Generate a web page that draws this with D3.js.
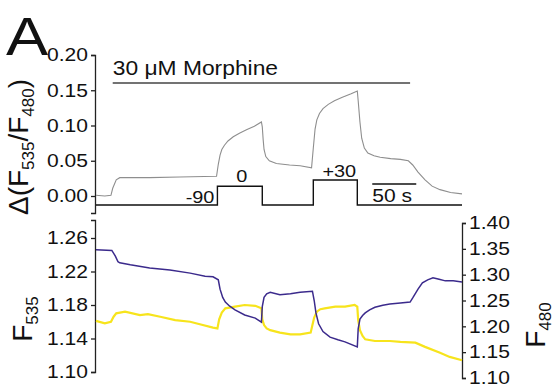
<!DOCTYPE html>
<html>
<head>
<meta charset="utf-8">
<script src="https://cdn.jsdelivr.net/npm/d3@7"></script>
<style>
  body { margin: 0; background: #fff; }
  text { font-family: "Liberation Sans", Arial, sans-serif; fill: #111; }
</style>
</head>
<body>
<svg id="chart" width="555" height="387"></svg>
<script>
// time in seconds (50 s scale bar)
const timeTop = [0, 10, 17, 19, 23, 27, 61, 95, 137, 139, 141, 143, 146, 150, 156, 163, 171, 180, 188, 189, 190, 191, 193, 197, 205, 220, 232, 245,
  247, 249, 251, 254, 258, 264, 271, 280, 290, 297, 298, 300, 302, 305, 309, 316, 323, 335, 346, 355, 360, 366, 374, 382, 391, 403, 416];
const deltaRatio = [0.001, 0.000, 0.001, 0.011, 0.023, 0.026, 0.026, 0.027, 0.028, 0.045, 0.058, 0.066, 0.072, 0.078, 0.084, 0.089, 0.094, 0.099, 0.105, 0.098, 0.080, 0.066, 0.056, 0.050, 0.046, 0.044, 0.043, 0.040,
  0.068, 0.095, 0.108, 0.117, 0.124, 0.130, 0.135, 0.140, 0.145, 0.149, 0.135, 0.105, 0.082, 0.068, 0.061, 0.057, 0.055, 0.053, 0.052, 0.050, 0.044, 0.034, 0.023, 0.014, 0.009, 0.005, 0.003];

// holding potential steps (mV)
const stepTimes = [0, 138, 189, 247, 297, 416];
const stepVolts = [-90, 0, -90, 30, -90, -90];

// F480 (blue, right axis)
const timeBlue = [0, 18, 22, 25, 27, 39, 61, 84, 107, 124, 133, 139, 141, 144, 147, 152, 158, 169, 181, 188, 189, 191, 194, 198,
  209, 221, 232, 246, 248, 250, 253, 258, 266, 275, 283, 297, 298, 300, 303, 306, 311, 317, 326, 334, 346, 357, 360, 366, 371, 377, 383, 390, 397, 406, 416];
const f480 = [1.348, 1.347, 1.336, 1.325, 1.323, 1.319, 1.313, 1.309, 1.303, 1.297, 1.296, 1.290, 1.272, 1.256, 1.247, 1.239, 1.232, 1.222, 1.216, 1.208, 1.238, 1.256, 1.263, 1.266,
  1.261, 1.263, 1.266, 1.268, 1.250, 1.226, 1.205, 1.190, 1.179, 1.174, 1.170, 1.160, 1.195, 1.214, 1.221, 1.226, 1.232, 1.237, 1.241, 1.243, 1.245, 1.247, 1.255, 1.272, 1.284, 1.290, 1.294, 1.291, 1.288, 1.288, 1.286];

// F535 (yellow, left axis)
const timeYellow = [0, 10, 17, 20, 23, 33, 50, 59, 73, 90, 107, 118, 133, 138, 140, 143, 147, 158, 169, 181, 188, 189, 191, 194,
  198, 209, 221, 232, 244, 246, 248, 251, 255, 260, 272, 283, 294, 297, 298, 300, 303, 306, 317, 334, 346, 363, 374, 391, 402, 416];
const f535 = [1.161, 1.158, 1.160, 1.166, 1.170, 1.172, 1.168, 1.169, 1.166, 1.162, 1.160, 1.157, 1.153, 1.152, 1.163, 1.171, 1.176, 1.178, 1.180, 1.179, 1.176, 1.163, 1.156, 1.152,
  1.150, 1.147, 1.145, 1.145, 1.147, 1.156, 1.165, 1.172, 1.175, 1.176, 1.178, 1.178, 1.180, 1.178, 1.162, 1.150, 1.143, 1.139, 1.137, 1.137, 1.136, 1.135, 1.130, 1.123, 1.118, 1.114];

const topTicks = [0, 0.05, 0.10, 0.15, 0.20];
const leftTicks = [1.10, 1.14, 1.18, 1.22, 1.26];
const rightTicks = [1.10, 1.15, 1.20, 1.25, 1.30, 1.35, 1.40];
const morphine = [19, 357];
const scaleBar = [314, 364];

const SX = 1.17; // the figure's text is a bit wide
const svg = d3.select("#chart");

const x = d3.scaleLinear().domain([0, 416]).range([96, 462]);
const yTop = d3.scaleLinear().domain([0, 0.2]).range([196, 55]);
const yStep = d3.scaleLinear().domain([-90, 30]).range([205, 180]);
const yLeft = d3.scaleLinear().domain([1.10, 1.26]).range([372, 238]);
const yRight = d3.scaleLinear().domain([1.10, 1.40]).range([378, 223]);

function styleAxis(g) {
  g.selectAll("path, line").attr("stroke", "#222").attr("stroke-width", 1.3);
  g.selectAll("text").attr("font-size", 18).attr("fill", "#111")
    .attr("font-family", "Liberation Sans, Arial, sans-serif")
    .attr("transform", `scale(${SX},1)`);
}

// top axis, its line runs a bit below 0 to take the step trace
const yTopAxis = d3.scaleLinear().domain([yTop.invert(213), 0.2]).range([213, 55]);
svg.append("g").attr("transform", "translate(95,0)")
  .call(d3.axisLeft(yTopAxis).tickValues(topTicks).tickFormat(d3.format(".2f")).tickSize(4).tickPadding(2))
  .call(styleAxis);

const yLeftAxis = d3.scaleLinear().domain([1.10, yLeft.invert(220)]).range([372, 220]);
svg.append("g").attr("transform", "translate(95,0)")
  .call(d3.axisLeft(yLeftAxis).tickValues(leftTicks).tickFormat(d3.format(".2f")).tickSize(4).tickPadding(2))
  .call(styleAxis);

svg.append("g").attr("transform", "translate(462,0)")
  .call(d3.axisRight(yRight).tickValues(rightTicks).tickFormat(d3.format(".2f")).tickSize(4).tickPadding(2))
  .call(styleAxis);

// traces
svg.append("path")
  .attr("d", d3.line().x((d, i) => x(timeTop[i])).y(d => yTop(d))(deltaRatio))
  .attr("fill", "none").attr("stroke", "#8e8e8e").attr("stroke-width", 1.1);

svg.append("path")
  .attr("d", d3.line().curve(d3.curveStepAfter).x((d, i) => x(stepTimes[i])).y(d => yStep(d))(stepVolts))
  .attr("fill", "none").attr("stroke", "#111").attr("stroke-width", 1.4);

svg.append("path")
  .attr("d", d3.line().x((d, i) => x(timeYellow[i])).y(d => yLeft(d))(f535))
  .attr("fill", "none").attr("stroke", "#f7e41c").attr("stroke-width", 2.2);

svg.append("path")
  .attr("d", d3.line().x((d, i) => x(timeBlue[i])).y(d => yRight(d))(f480))
  .attr("fill", "none").attr("stroke", "#3b2a8c").attr("stroke-width", 1.5);

// morphine bar
svg.append("line")
  .attr("x1", x(morphine[0])).attr("x2", x(morphine[1])).attr("y1", 83).attr("y2", 83)
  .attr("stroke", "#444").attr("stroke-width", 1.3);

function label(txt, px, py, size, anchor) {
  return svg.append("text")
    .attr("transform", `translate(${px},${py}) scale(${SX},1)`)
    .attr("font-size", size).attr("text-anchor", anchor || "start").text(txt);
}

label("A", 6, 55, 54);
label("30 \u03bcM Morphine", x(morphine[0]), 75, 19.5);
label("-90", x(stepTimes[1]) - 3, 203, 17, "end");
label("0", (x(stepTimes[1]) + x(stepTimes[2])) / 2 + 2, 182, 17, "middle");
label("+30", (x(stepTimes[3]) + x(stepTimes[4])) / 2 + 4, 177, 17, "middle");

// 50 s scale bar
svg.append("line")
  .attr("x1", x(scaleBar[0])).attr("x2", x(scaleBar[1])).attr("y1", 184).attr("y2", 184)
  .attr("stroke", "#111").attr("stroke-width", 1.3);
label("50 s", x(scaleBar[0]), 202, 18);

// rotated axis titles with subscripts (shift in px: + goes down to subscript)
function vlabel(px, py, parts, size, subSize) {
  const t = svg.append("text")
    .attr("transform", `translate(${px},${py}) rotate(-90)`)
    .attr("text-anchor", "middle").attr("font-size", size);
  parts.forEach(p => {
    t.append("tspan").text(p[0])
      .attr("font-size", p[1] ? subSize : size)
      .attr("dy", p[2] || null);
  });
}
vlabel(28, 147, [["\u0394(F", 0], ["535", 1, 6], ["/F", 0, -6], ["480", 1, 6], [")", 0, -6]], 28, 17);
vlabel(32, 319, [["F", 0], ["535", 1, 6]], 28, 17);
vlabel(545, 325, [["F", 0], ["480", 1, 6]], 28, 17);
</script>
</body>
</html>
